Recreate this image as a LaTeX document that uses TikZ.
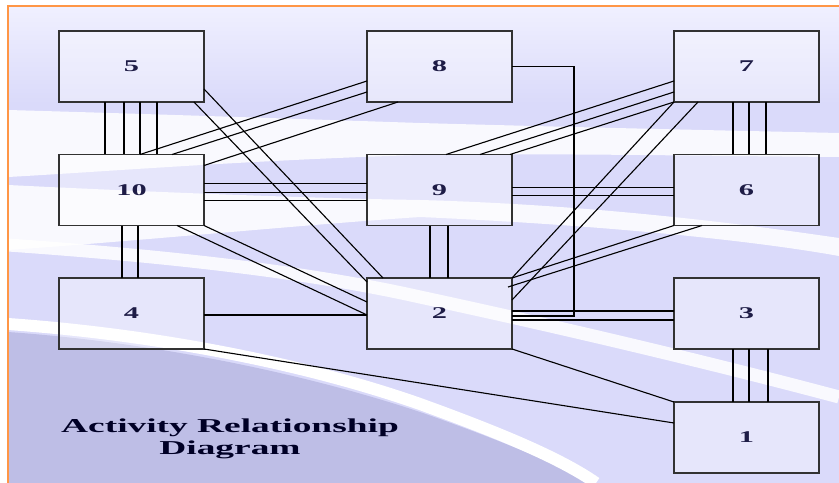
\documentclass[tikz,border=0pt]{standalone}
\usepackage{fontspec}
\setmainfont{Liberation Serif}
\usetikzlibrary{calc}
\definecolor{bgtop}{RGB}{240,240,255}
\definecolor{bglav}{RGB}{218,218,250}
\definecolor{bgdark}{RGB}{190,190,230}
\definecolor{frameorange}{RGB}{255,150,70}
\definecolor{boxgray}{RGB}{50,50,50}
\definecolor{labelnavy}{RGB}{30,28,70}
\newcommand{\widetxt}[2]{\scalebox{#1}[1]{#2}}

\begin{document}
\begin{tikzpicture}[x=0.03cm,y=-0.03cm,
  actbox/.style={draw=boxgray,line width=1.3pt,fill=white,fill opacity=0.35,text opacity=1,
    minimum width=4.35cm,minimum height=2.13cm,inner sep=0pt,outer sep=0pt,
    text=labelnavy,font=\fontsize{14}{16}\selectfont\bfseries},
  link/.style={line width=0.95pt,black}]
  \useasboundingbox (0,0) rectangle (839,483);

  % background of the slide
  \fill[white] (0,0) rectangle (839,483);
  \fill[bglav] (8,6) rectangle (839,483);
  \shade[top color=bgtop,middle color=white,bottom color=bglav] (8,6) rectangle (839,104);
  \fill[white,opacity=0.85] (8,110) .. controls (150,114) and (300,119) .. (420,123)
    .. controls (600,128) and (750,131) .. (839,133) -- (839,157)
    .. controls (700,156) and (550,153) .. (420,155)
    .. controls (250,160) and (100,172) .. (8,177) -- cycle;
  \fill[white,opacity=0.85] (8,185) .. controls (150,192) and (300,198) .. (420,200)
    .. controls (600,205) and (750,225) .. (839,238) -- (839,256)
    .. controls (750,240) and (600,225) .. (420,217)
    .. controls (300,225) and (150,240) .. (8,250) -- cycle;
  \draw[white,opacity=0.85,line width=0.39cm] (8,245) .. controls (150,255) and (300,270) .. (420,297)
    .. controls (550,325) and (700,360) .. (839,397);
  \fill[bgdark] (8,332) .. controls (150,342) and (300,372) .. (420,412)
    .. controls (500,440) and (560,465) .. (590,483) -- (8,483) -- cycle;
  \draw[white,line width=0.36cm] (8,324) .. controls (150,334) and (300,362) .. (420,404)
    .. controls (500,433) and (560,458) .. (596,483);
  \draw[frameorange,line width=1.3pt] (8,483) -- (8,6) -- (839,6);

  % activity boxes
  \node(b5)[actbox] at (131.5,66.5) {\widetxt{1.85}{5}};
  \node(b8)[actbox] at (439.5,66.5) {\widetxt{1.85}{8}};
  \node(b7)[actbox] at (746.5,66.5) {\widetxt{1.85}{7}};
  \node(b10)[actbox] at (131.5,190) {\widetxt{1.85}{10}};
  \node(b9)[actbox] at (439.5,190) {\widetxt{1.85}{9}};
  \node(b6)[actbox] at (746.5,190) {\widetxt{1.85}{6}};
  \node(b4)[actbox] at (131.5,313.5) {\widetxt{1.85}{4}};
  \node(b2)[actbox] at (439.5,313.5) {\widetxt{1.85}{2}};
  \node(b3)[actbox] at (746.5,313.5) {\widetxt{1.85}{3}};
  \node(b1)[actbox] at (746.5,437.5) {\widetxt{1.85}{1}};

  % 5 -- 10
  \draw[link] ($(b5.south west)+(46,0)$) -- ($(b10.north west)+(46,0)$);
  \draw[link] ($(b5.south west)+(65,0)$) -- ($(b10.north west)+(65,0)$);
  \draw[link] ($(b5.south west)+(81,0)$) -- ($(b10.north west)+(81,0)$);
  \draw[link] ($(b5.south west)+(98,0)$) -- ($(b10.north west)+(98,0)$);
  % 10 -- 4
  \draw[link] ($(b10.south west)+(63,0)$) -- ($(b4.north west)+(63,0)$);
  \draw[link] ($(b10.south west)+(79,0)$) -- ($(b4.north west)+(79,0)$);
  % 5 -- 2
  \draw[link] ($(b5.north east)+(0,58)$) -- ($(b2.north west)+(16,0)$);
  \draw[link] ($(b5.south west)+(135,0)$) -- ($(b2.north west)+(0,4)$);
  % 8 -- 10
  \draw[link] ($(b8.north west)+(0,50)$) -- ($(b10.north west)+(81,0)$);
  \draw[link] ($(b8.north west)+(0,61)$) -- ($(b10.north west)+(113,0)$);
  \draw[link] ($(b8.south west)+(31,0)$) -- ($(b10.north east)+(0,11)$);
  % 10 -- 9
  \draw[link] ($(b10.north east)+(0,29)$) -- ($(b9.north west)+(0,29)$);
  \draw[link] ($(b10.north east)+(0,38)$) -- ($(b9.north west)+(0,38)$);
  \draw[link] ($(b10.north east)+(0,46)$) -- ($(b9.north west)+(0,46)$);
  % 10 -- 2
  \draw[link] ($(b10.south west)+(118,0)$) -- ($(b2.north west)+(0,37)$);
  \draw[link] (b10.south east) -- ($(b2.north west)+(0,24)$);
  % 4 -- 2 and 4 -- 1
  \draw[link] ($(b4.north east)+(0,37)$) -- ($(b2.north west)+(0,37)$);
  \draw[link] (b4.south east) -- ($(b1.north west)+(0,21)$);
  % 9 -- 2
  \draw[link] ($(b9.south west)+(63,0)$) -- ($(b2.north west)+(63,0)$);
  \draw[link] ($(b9.south west)+(81,0)$) -- ($(b2.north west)+(81,0)$);
  % 9 -- 7
  \draw[link] ($(b9.north west)+(79,0)$) -- ($(b7.north west)+(0,50)$);
  \draw[link] ($(b9.north west)+(113,0)$) -- ($(b7.north west)+(0,61)$);
  \draw[link] ($(b9.north east)+(-2,0)$) -- (b7.south west);
  % 9 -- 6
  \draw[link] ($(b9.north east)+(0,33)$) -- ($(b6.north west)+(0,33)$);
  \draw[link] ($(b9.north east)+(0,41)$) -- ($(b6.north west)+(0,41)$);
  % 7 -- 6
  \draw[link] ($(b7.south west)+(59,0)$) -- ($(b6.north west)+(59,0)$);
  \draw[link] ($(b7.south west)+(75,0)$) -- ($(b6.north west)+(75,0)$);
  \draw[link] ($(b7.south west)+(92,0)$) -- ($(b6.north west)+(92,0)$);
  % 7 -- 2 and 6 -- 2
  \draw[link] (b7.south west) -- (b2.north east);
  \draw[link] ($(b7.south west)+(24,0)$) -- ($(b2.north east)+(0,22)$);
  \draw[link] (b6.south west) -- (b2.north east);
  \draw[link] ($(b6.south west)+(28,0)$) -- ($(b2.north east)+(-4,9)$);
  % 8 -- 2
  \draw[link] (b8.east) -- ++(62,0) |- ($(b2.north east)+(0,38)$);
  % 2 -- 3
  \draw[link] ($(b2.north east)+(0,33)$) -- ($(b3.north west)+(0,33)$);
  \draw[link] ($(b2.north east)+(0,42)$) -- ($(b3.north west)+(0,42)$);
  % 2 -- 1 and 3 -- 1
  \draw[link] (b2.south east) -- (b1.north west);
  \draw[link] ($(b3.south west)+(59,0)$) -- ($(b1.north west)+(59,0)$);
  \draw[link] ($(b3.south west)+(75,0)$) -- ($(b1.north west)+(75,0)$);
  \draw[link] ($(b3.south west)+(94,0)$) -- ($(b1.north west)+(94,0)$);

  % title
  \node(title)[text=black!85!blue,font=\fontsize{16.8}{19}\selectfont\bfseries] at (230,439)
    {\widetxt{1.9}{\begin{tabular}{@{}c@{}}Activity Relationship\\Diagram\end{tabular}}};
\end{tikzpicture}
\end{document}
